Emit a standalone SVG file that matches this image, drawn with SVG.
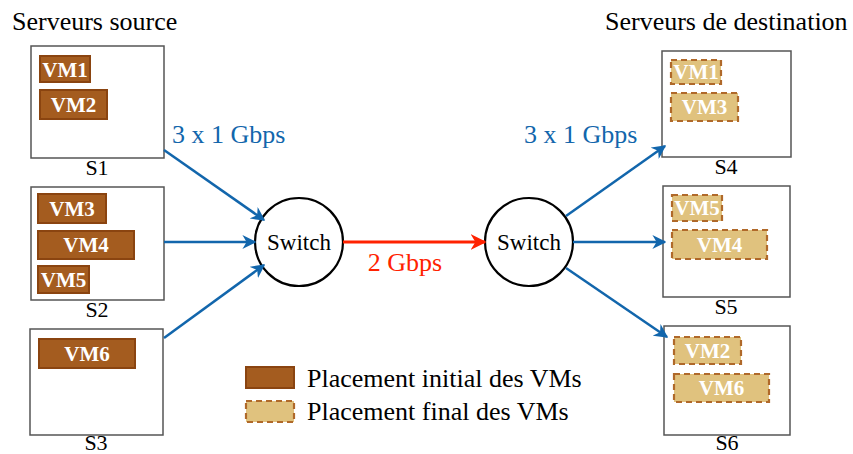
<svg xmlns="http://www.w3.org/2000/svg" width="853" height="454" viewBox="0 0 853 454">
<style>
text{font-family:"Liberation Serif","Times New Roman",serif;}
.srv{fill:#fff;stroke:#555;stroke-width:1.5}
.vmi{fill:#A45C1F;stroke:#8A4410;stroke-width:2}
.vmf{fill:#E0C27E;stroke:#B0692A;stroke-width:2.2;stroke-dasharray:6,4}
.vt{fill:#fff;font-weight:bold;font-size:21px;text-anchor:middle}
.lbl{font-size:22px;text-anchor:middle;fill:#000}
.title{font-size:26px;fill:#000}
.sw{fill:#fff;stroke:#000;stroke-width:2.2}
.swt{font-size:23px;text-anchor:middle;fill:#000}
.blue{stroke:#1266AC;stroke-width:2.5;fill:none;marker-end:url(#ab)}
.bt{fill:#1266AC;font-size:26px}
.leg{font-size:26px;fill:#000}
</style>
<defs>
<marker id="ab" viewBox="0 0 10 10" refX="9" refY="5" markerWidth="14" markerHeight="14" markerUnits="userSpaceOnUse" orient="auto"><path d="M0,0 L10,5 L0,10 L3,5 z" fill="#1266AC"/></marker>
<marker id="ar" viewBox="0 0 10 10" refX="9" refY="5" markerWidth="16" markerHeight="16" markerUnits="userSpaceOnUse" orient="auto"><path d="M0,0 L10,5 L0,10 L3,5 z" fill="#FF2200"/></marker>
</defs>
<text class="title" x="12" y="30">Serveurs source</text>
<text class="title" x="605" y="30">Serveurs de destination</text>

<g id="S1">
<rect class="srv" x="31" y="46" width="133" height="112"/>
<rect class="vmi" x="40" y="56" width="50" height="26"/><text class="vt" x="65" y="77">VM1</text>
<rect class="vmi" x="40" y="90" width="67" height="29"/><text class="vt" x="73.5" y="112">VM2</text>
<text class="lbl" x="97" y="175">S1</text>
</g>
<g id="S2">
<rect class="srv" x="31" y="187" width="133" height="113"/>
<rect class="vmi" x="38" y="194" width="68" height="29"/><text class="vt" x="72" y="216">VM3</text>
<rect class="vmi" x="38" y="231" width="96" height="28"/><text class="vt" x="86" y="252">VM4</text>
<rect class="vmi" x="38" y="266" width="51" height="27"/><text class="vt" x="63.5" y="287">VM5</text>
<text class="lbl" x="97" y="317">S2</text>
</g>
<g id="S3">
<rect class="srv" x="30" y="329" width="133" height="106"/>
<rect class="vmi" x="39" y="339" width="96" height="29"/><text class="vt" x="87" y="361">VM6</text>
<text class="lbl" x="96" y="450">S3</text>
</g>
<g id="S4">
<rect class="srv" x="662" y="51" width="129" height="106"/>
<rect class="vmf" x="671" y="60" width="50" height="24"/><text class="vt" x="696" y="79">VM1</text>
<rect class="vmf" x="671" y="93" width="67" height="28"/><text class="vt" x="704.5" y="114">VM3</text>
<text class="lbl" x="726" y="174">S4</text>
</g>
<g id="S5">
<rect class="srv" x="663" y="186" width="127" height="111"/>
<rect class="vmf" x="672" y="195" width="50" height="26"/><text class="vt" x="697" y="215">VM5</text>
<rect class="vmf" x="672" y="230" width="95" height="29"/><text class="vt" x="719.5" y="252">VM4</text>
<text class="lbl" x="726" y="314">S5</text>
</g>
<g id="S6">
<rect class="srv" x="664" y="326" width="126" height="109"/>
<rect class="vmf" x="674" y="337" width="67" height="27"/><text class="vt" x="707.5" y="358">VM2</text>
<rect class="vmf" x="674" y="374" width="95" height="28"/><text class="vt" x="721.5" y="395">VM6</text>
<text class="lbl" x="727" y="450">S6</text>
</g>

<g id="switch1">
<circle class="sw" cx="299" cy="242" r="44"/>
<text class="swt" x="299" y="250">Switch</text>
</g>
<g id="switch2">
<circle class="sw" cx="529" cy="242" r="44"/>
<text class="swt" x="529" y="250">Switch</text>
</g>

<g id="connectors">
<line class="blue" x1="164" y1="150" x2="264" y2="220"/>
<line class="blue" x1="164" y1="242" x2="255" y2="242"/>
<line class="blue" x1="164" y1="338" x2="264" y2="265"/>
<line class="blue" x1="566" y1="216" x2="665" y2="146"/>
<line class="blue" x1="573" y1="242" x2="665" y2="242"/>
<line class="blue" x1="566" y1="268" x2="667" y2="337"/>
<line x1="343" y1="242" x2="485" y2="242" stroke="#FF2200" stroke-width="3" marker-end="url(#ar)"/>
</g>
<text class="bt" x="172" y="143">3 x 1 Gbps</text>
<text class="bt" x="524" y="143">3 x 1 Gbps</text>
<text x="405" y="271" fill="#FF2200" font-size="26" text-anchor="middle">2 Gbps</text>

<g id="legend">
<rect class="vmi" x="246" y="367" width="48" height="21"/>
<rect class="vmf" x="246" y="401" width="48" height="21"/>
<text class="leg" x="307" y="387">Placement initial des VMs</text>
<text class="leg" x="307" y="420">Placement final des VMs</text>
</g>
</svg>
